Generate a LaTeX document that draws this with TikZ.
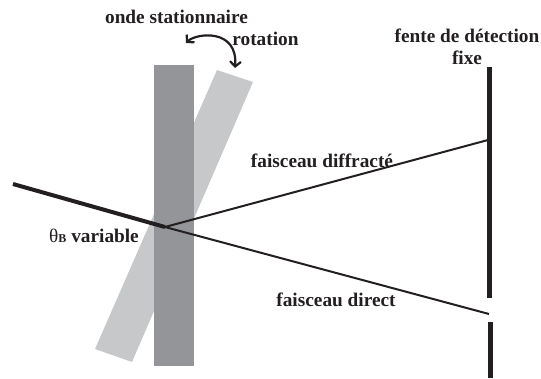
\documentclass[tikz,border=0pt]{standalone}
\usepackage{fontspec}
\setmainfont{Liberation Serif}
\usetikzlibrary{arrows.meta}
\definecolor{inkc}{HTML}{231F20}
\definecolor{darkbar}{HTML}{939598}
\definecolor{lightbar}{HTML}{C7C8CA}
\tikzset{
  lbl/.style={inner sep=0pt,font=\fontsize{19.3}{22}\selectfont\bfseries,text=inkc,align=center},
  beam/.style={draw=inkc,line width=2pt},
  inbeam/.style={draw=inkc,line width=4pt},
  slit/.style={draw=inkc,line width=5.7pt},
}
\begin{document}
\begin{tikzpicture}[x=1pt,y=-1pt]
\useasboundingbox (0,0) rectangle (541,378);
\fill[lightbar] (217,70) -- (253,82) -- (132,362) -- (95,349) -- cycle;
\fill[darkbar] (154,65) rectangle (194,366);
\coordinate (o) at (165,227);
\coordinate (src) at (13,184);
\coordinate (dif) at (488,140);
\coordinate (dir) at (489,314);
\coordinate (s1) at (489.5,67);
\coordinate (s2) at (489.5,298);
\coordinate (s3) at (490.5,322);
\coordinate (s4) at (490.5,378);
\coordinate (r1) at (235,68);
\coordinate (r2) at (186,43);
\draw[inbeam] (src) -- (o);
\draw[beam] (o) -- (dif);
\draw[beam] (o) -- (dir);
\draw[slit] (s1) -- (s2);
\draw[slit] (s3) -- (s4);
\draw[draw=inkc,line width=2.2pt,{Straight Barb[length=5pt,width=11pt]}-{Straight Barb[length=5pt,width=11pt]}] (r2) .. controls (196,33) and (238,28) .. (r1);
\node[lbl,anchor=center] (a) at (176.5,17) {onde stationnaire};
\node[lbl,anchor=center] (b) at (265.5,39) {rotation};
\node[lbl,anchor=center] (c) at (467,36) {fente de détection};
\node[lbl,anchor=center] (d) at (467,58) {fixe};
\node[lbl,anchor=center] (e) at (322,161) {faisceau diffracté};
\node[lbl,anchor=center] (f) at (336,300) {faisceau direct};
\node[lbl,anchor=center] (g) at (94,236) {{\mdseries\fontsize{19.3}{22}\selectfont θ}{\fontsize{12}{14}\selectfont B} variable};
\end{tikzpicture}
\end{document}
